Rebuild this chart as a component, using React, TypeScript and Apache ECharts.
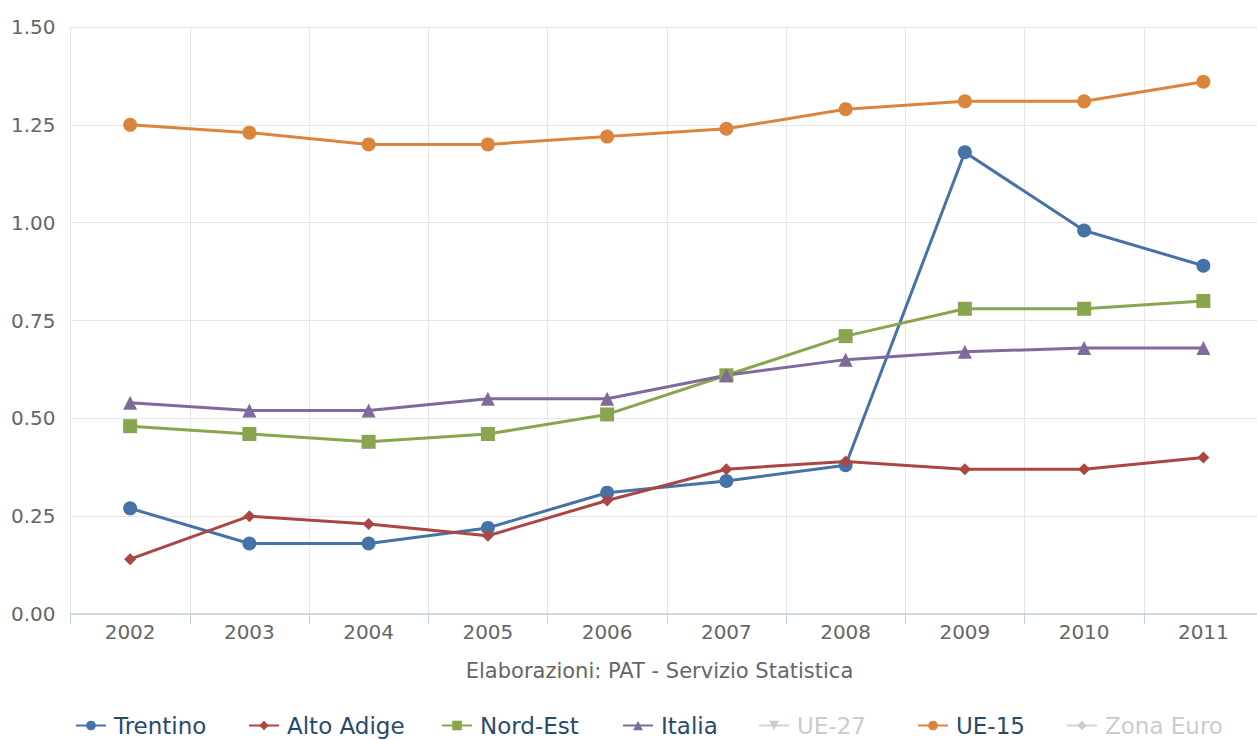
import React, { useEffect, useRef } from "react";
import * as echarts from "echarts";

const years = ["2002", "2003", "2004", "2005", "2006", "2007", "2008", "2009", "2010", "2011"];
const trentino = [0.27, 0.18, 0.18, 0.22, 0.31, 0.34, 0.38, 1.18, 0.98, 0.89];
const altoAdige = [0.14, 0.25, 0.23, 0.2, 0.29, 0.37, 0.39, 0.37, 0.37, 0.4];
const nordEst = [0.48, 0.46, 0.44, 0.46, 0.51, 0.61, 0.71, 0.78, 0.78, 0.8];
const italia = [0.54, 0.52, 0.52, 0.55, 0.55, 0.61, 0.65, 0.67, 0.68, 0.68];
const ue27: number[] = [];
const ue15 = [1.25, 1.23, 1.2, 1.2, 1.22, 1.24, 1.29, 1.31, 1.31, 1.36];
const zonaEuro: number[] = [];
const creditText = "Elaborazioni: PAT - Servizio Statistica";

const seriesDefs = [
  { name: "Trentino", data: trentino, color: "#4572A7", symbol: "circle", size: 14 },
  { name: "Alto Adige", data: altoAdige, color: "#AA4643", symbol: "diamond", size: 12 },
  { name: "Nord-Est", data: nordEst, color: "#89A54E", symbol: "rect", size: 14 },
  { name: "Italia", data: italia, color: "#80699B", symbol: "triangle", size: 14 },
  { name: "UE-27", data: ue27, color: "#3D96AE", symbol: "triangle", size: 14, rotate: 180 },
  { name: "UE-15", data: ue15, color: "#DB843D", symbol: "circle", size: 14 },
  { name: "Zona Euro", data: zonaEuro, color: "#92A8CD", symbol: "diamond", size: 12 },
];
const legendLefts = [75, 248, 441, 622, 758, 917, 1066];
const hiddenSeries = ["UE-27", "Zona Euro"];

export default function App() {
  const ref = useRef<HTMLDivElement>(null);
  useEffect(() => {
    document.body.style.margin = "0";
    document.body.style.overflow = "hidden";
    const chart = echarts.init(ref.current!, null, { renderer: "svg" });
    const font = "'DejaVu Sans', Verdana, sans-serif";
    const selected: Record<string, boolean> = {};
    seriesDefs.forEach((s) => (selected[s.name] = !hiddenSeries.includes(s.name)));
    chart.setOption({
      animation: false,
      backgroundColor: "#ffffff",
      textStyle: { fontFamily: font },
      grid: { left: 70.5, right: 0, top: 27, bottom: 126, containLabel: false },
      legend: seriesDefs.map((s, i) => ({
        left: legendLefts[i],
        top: 714,
        padding: 0,
        itemWidth: 30,
        itemHeight: 12,
        inactiveColor: "#cccccc",
        textStyle: { fontSize: 23, color: "#274b6d", fontFamily: font, padding: [0, 0, 0, 3] },
        selected,
        data: [s.name],
      })),
      graphic: [
        {
          type: "text",
          x: 659.5,
          y: 671,
          style: {
            text: creditText,
            fontSize: 21,
            fill: "#666666",
            fontFamily: font,
            textAlign: "center",
            textVerticalAlign: "middle",
          },
        },
      ],
      xAxis: {
        type: "category",
        data: years,
        boundaryGap: true,
        axisLine: { show: true, lineStyle: { color: "#C0D0E0", width: 1.5 } },
        axisTick: { show: true, length: 10, lineStyle: { color: "#C0D0E0" } },
        axisLabel: { fontSize: 20, color: "#666666", margin: 8, fontFamily: font },
        splitLine: { show: true, lineStyle: { color: "#e6e6e6", width: 1 } },
      },
      yAxis: {
        type: "value",
        min: 0,
        max: 1.5,
        interval: 0.25,
        axisLine: { show: false },
        axisTick: { show: false },
        axisLabel: {
          fontSize: 20,
          color: "#666666",
          margin: 15,
          fontFamily: font,
          formatter: (v: number) => v.toFixed(2),
        },
        splitLine: { show: true, lineStyle: { color: "#e6e6e6", width: 1 } },
      },
      series: seriesDefs.map((s) => ({
        name: s.name,
        type: "line",
        data: s.data,
        color: s.color,
        symbol: s.symbol,
        symbolSize: s.size,
        symbolRotate: (s as any).rotate || 0,
        showAllSymbol: true,
        lineStyle: { width: 3, color: s.color },
        itemStyle: { color: s.color },
      })),
    });
    return () => chart.dispose();
  }, []);
  return <div ref={ref} style={{ width: 1263, height: 740 }} />;
}
